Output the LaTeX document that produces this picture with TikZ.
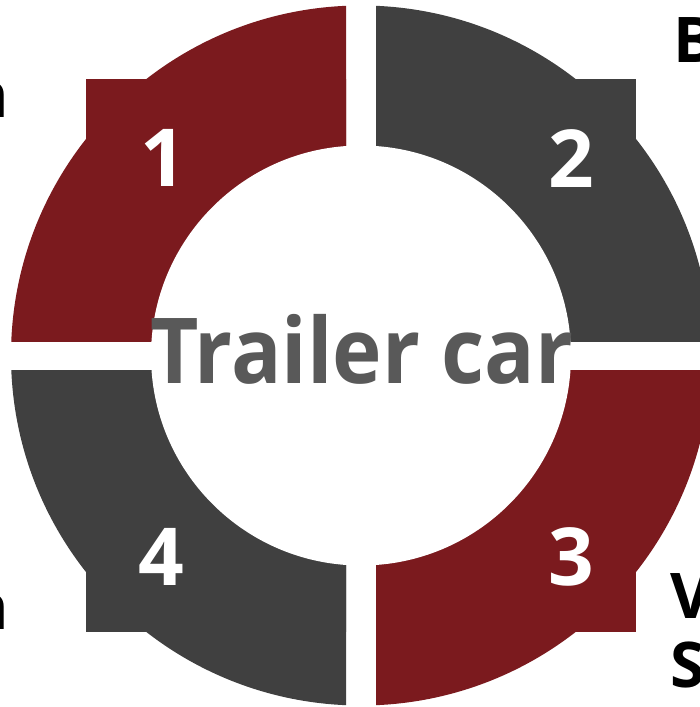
\documentclass[tikz,border=0pt]{standalone}
\usepackage{fontspec}
\setmainfont{Open Sans}
\definecolor{cred}{HTML}{7B1A1E}
\definecolor{cgray}{HTML}{404040}
\definecolor{ctext}{HTML}{595959}
\begin{document}
\begin{tikzpicture}[x=1pt,y=-1pt,
  num/.style={text=white,font=\fontsize{80}{80}\selectfont\bfseries,inner sep=0pt},
  edge/.style={text=black,font=\fontsize{63}{70}\selectfont\bfseries,inner sep=0pt}]
\useasboundingbox (0,0) rectangle (700,707);
\coordinate (C) at (361,355.5);
% top-left
\begin{scope}
\clip (0,0) rectangle (346,341);
\fill[cred] (C) circle (350);
\fill[cred] (86,79) rectangle (C);
\end{scope}
% top-right
\begin{scope}
\clip (376,0) rectangle (700,341);
\fill[cgray] (C) circle (350);
\fill[cgray] (636,79) rectangle (C);
\end{scope}
% bottom-left
\begin{scope}
\clip (0,370) rectangle (346,707);
\fill[cgray] (C) circle (350);
\fill[cgray] (86,632) rectangle (C);
\end{scope}
% bottom-right
\begin{scope}
\clip (376,370) rectangle (700,707);
\fill[cred] (C) circle (350);
\fill[cred] (636,632) rectangle (C);
\end{scope}
\fill[white] (C) circle (210);
\node[num] (n1) at (163,158) {1};
\node[num] (n2) at (571,159) {2};
\node[num] (n3) at (571,557) {3};
\node[num] (n4) at (161,557) {4};
\node[text=ctext,font=\fontsize{91}{91}\selectfont\bfseries,inner sep=0pt,anchor=base,xscale=0.92] (t) at (362,383) {Trailer car};
\node[edge,anchor=base east] (l1) at (9,117) {n};
\node[edge,anchor=base east] (l2) at (9,629) {n};
\node[edge,anchor=base west] (r1) at (673,62) {B};
\node[edge,anchor=base west] (r2) at (670,618) {V};
\node[edge,anchor=base west] (r3) at (670,687) {S};
\end{tikzpicture}
\end{document}
